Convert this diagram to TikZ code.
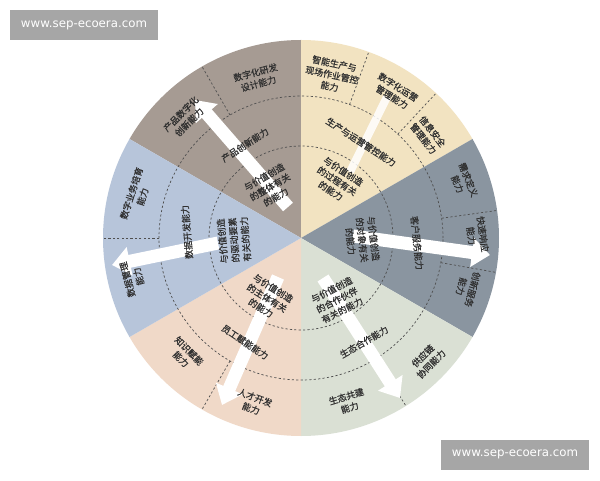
\documentclass[tikz,border=0pt]{standalone}
\usepackage{fontspec}
\newfontfamily\cjk[FakeBold=0.7]{Noto Sans CJK SC}
\newfontfamily\wmfont{DejaVu Sans}
\usetikzlibrary{arrows.meta}
\definecolor{cBrown}{HTML}{A69B93}
\definecolor{cYellow}{HTML}{F2E3C1}
\definecolor{cGray}{HTML}{8A95A0}
\definecolor{cGreen}{HTML}{DAE0D4}
\definecolor{cPeach}{HTML}{F0D9C8}
\definecolor{cBlue}{HTML}{B7C5DA}
\definecolor{cText}{HTML}{303030}
\definecolor{cMark}{HTML}{A6A6A6}
\tikzset{
  lbl/.style={font=\cjk\fontsize{9}{11.6}\selectfont, text=cText, align=center, inner sep=0pt},
  ring/.style={draw=cText!85, line width=0.7pt, dash pattern=on 2.2pt off 2.2pt},
  bigarrow/.style={draw=white, line width=13pt, -{Triangle[width=28pt,length=18pt]}},
  band/.style={draw=white, line width=8pt, opacity=0.85},
  wmbox/.style={fill=cMark, text=white, font=\wmfont\fontsize{11.8}{13}\selectfont, minimum width=148pt, minimum height=30pt, inner sep=0pt}
}
\begin{document}
\begin{tikzpicture}[x=1pt,y=1pt]
\useasboundingbox (0,0) rectangle (600,480);
\fill[white] (0,0) rectangle (600,480);
\coordinate (C) at (301,242);
% sectors
\fill[cBrown]  (C) -- ++(90:198)  arc[start angle=90,  end angle=150, radius=198] -- cycle;
\fill[cYellow] (C) -- ++(30:198)  arc[start angle=30,  end angle=90,  radius=198] -- cycle;
\fill[cGray]   (C) -- ++(-30:198) arc[start angle=-30, end angle=30,  radius=198] -- cycle;
\fill[cGreen]  (C) -- ++(-90:198) arc[start angle=-90, end angle=-30, radius=198] -- cycle;
\fill[cPeach]  (C) -- ++(-150:198) arc[start angle=-150, end angle=-90, radius=198] -- cycle;
\fill[cBlue]   (C) -- ++(150:198) arc[start angle=150, end angle=210, radius=198] -- cycle;
% dashed rings
\draw[ring] (C) circle[radius=92];
\draw[ring] (C) circle[radius=142];
% radial dashed dividers in outer ring
\foreach \a in {120,70,47,8,-10,-58,-120,180}
  \draw[ring, shift={(C)}] (\a:142) -- (\a:198);
% arrows
\coordinate (a1t) at (288,273); \coordinate (a1h) at (195,380);
\coordinate (a2t) at (350,308); \coordinate (a2h) at (387,383);
\coordinate (a3t) at (353,244); \coordinate (a3h) at (490,225);
\coordinate (a4t) at (323,202); \coordinate (a4h) at (400,82);
\coordinate (a5t) at (278,203); \coordinate (a5h) at (222,75);
\coordinate (a6t) at (218,237); \coordinate (a6h) at (112,215);
\draw[bigarrow] (a1t) -- (a1h);
\draw[band] (a2t) -- (a2h);
\draw[bigarrow] (a3t) -- (a3h);
\draw[bigarrow] (a4t) -- (a4h);
\draw[bigarrow] (a5t) -- (a5h);
\draw[bigarrow] (a6t) -- (a6h);
% brown sector labels
\node[lbl, rotate=30] (bin) at (270,293) {与价值创造\\的整体有关\\的能力};
\node[lbl, rotate=33] (bmid) at (245,335) {产品创新能力};
\node[lbl, rotate=45] (bo1) at (185,362) {产品数字化\\创新能力};
\node[lbl, rotate=15] (bo2) at (257,402) {数字化研发\\设计能力};
% yellow sector labels
\node[lbl, rotate=-33] (yin) at (337,299) {与价值创造\\的过程有关\\的能力};
\node[lbl, rotate=-33] (ymid) at (361,338) {生产与运营管控能力};
\node[lbl, rotate=-12] (yo1) at (332,405) {智能生产与\\现场作业管控\\能力};
\node[lbl, rotate=-32] (yo2) at (395,388) {数字化运营\\管理能力};
\node[lbl, rotate=-52] (yo3) at (428,345) {信息安全\\管理能力};
% gray sector labels
\node[lbl, rotate=-83] (gin) at (362,240) {与价值创造\\的对象有关\\的能力};
\node[lbl, rotate=-84] (gmid) at (417,237) {客户服务能力};
\node[lbl, rotate=-68] (go1) at (463,298) {需求定义\\能力};
\node[lbl, rotate=-82] (go2) at (477,245) {快速响应\\能力};
\node[lbl, rotate=-105] (go3) at (467,192) {创新服务\\能力};
% green sector labels
\node[lbl, rotate=27] (grin) at (337,180) {与价值创造\\的合作伙伴\\有关的能力};
\node[lbl, rotate=30] (grmid) at (364,138) {生态合作能力};
\node[lbl, rotate=45] (gro1) at (427,120) {供应链\\协同能力};
\node[lbl, rotate=17] (gro2) at (348,78) {生态共建\\能力};
% peach sector labels
\node[lbl, rotate=-32] (pin) at (267,182) {与价值创造\\的主体有关\\的能力};
\node[lbl, rotate=-34] (pmid) at (245,138) {员工赋能能力};
\node[lbl, rotate=-45] (po1) at (185,125) {知识赋能\\能力};
\node[lbl, rotate=-20] (po2) at (253,77) {人才开发\\能力};
% blue sector labels
\node[lbl, rotate=95] (blin) at (234,240) {与价值创造\\的驱动要素\\有关的能力};
\node[lbl, rotate=95] (blmid) at (187,248) {数据开发能力};
\node[lbl, rotate=72] (blo1) at (137,285) {数字业务培育\\能力};
\node[lbl, rotate=105] (blo2) at (133,202) {数据管理\\能力};
% watermarks
\node[wmbox] (wm1) at (84,455) {www.sep-ecoera.com};
\node[wmbox] (wm2) at (515,25.5) {www.sep-ecoera.com};
\end{tikzpicture}
\end{document}
